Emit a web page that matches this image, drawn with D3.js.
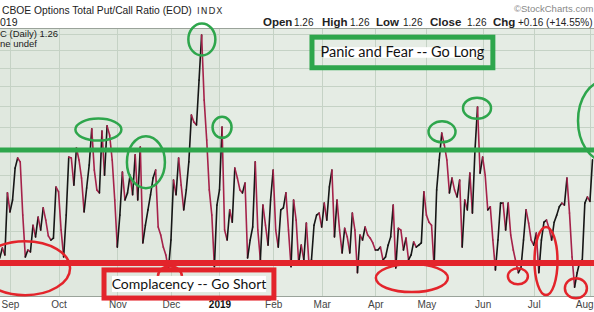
<!DOCTYPE html>
<html>
<head>
<meta charset="utf-8">
<script src="https://cdn.jsdelivr.net/npm/d3@7"></script>
<style>
  body { margin: 0; background: #fff; }
  svg { display: block; font-family: "Liberation Sans", Arial, sans-serif; }
</style>
</head>
<body>
<svg id="chart" width="594" height="312"></svg>
<script>
// $CPC daily closes, late Aug 2018 .. 2 Aug 2019 (one value per trading day)
const cpcValues = [
  0.915, 0.945, 0.924, 1.131, 1.063, 1.105, 1.226, 1.267, 1.251, 1.052,
  0.918, 0.939, 0.933, 1.018, 0.980, 1.045, 1.002, 1.077, 1.035, 0.983,
  0.970, 0.976, 1.153, 1.135, 1.002, 0.918, 1.052, 1.271, 1.267, 1.160,
  1.309, 1.259, 1.187, 1.063, 1.149, 1.238, 1.393, 1.218, 1.142, 1.131,
  1.383, 1.198, 1.407, 1.365, 1.259, 1.105, 0.948, 1.052, 1.210, 1.105,
  1.131, 1.198, 1.124, 1.280, 1.105, 1.313, 0.961, 1.018, 1.070, 1.124,
  1.187, 1.218, 1.012, 0.986, 0.948, 0.924, 0.880, 0.970, 1.179, 1.124,
  1.267, 1.160, 1.070, 1.142, 1.251, 1.457, 1.424, 1.411, 1.633, 1.891,
  1.530, 1.343, 1.142, 1.052, 0.889, 1.087, 1.142, 1.402, 1.002, 0.970,
  1.070, 1.028, 1.226, 1.187, 1.142, 1.131, 1.168, 0.915, 0.970, 1.012,
  1.251, 1.002, 0.909, 1.087, 1.018, 0.954, 1.105, 1.218, 1.002, 0.948,
  1.070, 1.077, 1.131, 1.002, 0.889, 1.105, 1.035, 0.900, 0.954, 0.909,
  1.025, 0.900, 0.909, 1.018, 1.052, 1.059, 1.012, 1.094, 1.035, 1.153,
  1.218, 0.980, 1.105, 1.002, 0.930, 1.008, 0.980, 0.930, 1.059, 1.002,
  0.872, 0.986, 0.970, 1.012, 0.986, 0.976, 0.961, 0.939, 0.939, 0.948,
  0.909, 0.918, 0.954, 0.980, 1.087, 0.886, 1.008, 1.002, 0.939, 0.976,
  0.909, 0.924, 0.964, 0.948, 0.954, 0.961, 1.135, 1.052, 1.028, 1.018,
  0.889, 1.142, 1.259, 1.374, 1.322, 1.259, 1.131, 1.187, 1.142, 1.116,
  1.179, 0.948, 1.105, 1.070, 1.206, 1.059, 1.300, 1.496, 1.206, 1.271,
  1.198, 1.070, 1.081, 0.970, 0.880, 0.970, 1.094, 1.094, 1.002, 1.094,
  0.986, 0.939, 0.903, 0.872, 0.886, 0.970, 1.070, 1.025, 0.970, 0.954,
  0.992, 0.872, 0.970, 1.028, 1.035, 1.008, 0.970, 1.028, 1.052, 1.081,
  1.094, 1.087, 1.187, 1.059, 0.918, 0.832, 0.872, 0.903, 0.909, 1.094,
  1.116, 1.10, 1.26
];

// month labels and the index of each month's first trading day
const monthLabels = ["Sep", "Oct", "Nov", "Dec", "2019", "Feb", "Mar", "Apr", "May", "Jun", "Jul", "Aug"];
const monthStarts = [4, 23, 46, 67, 86, 107, 126, 147, 167, 189, 209, 231];

// horizontal grid (log scale)
const gridValues = [0.9, 1.0, 1.1, 1.2, 1.3, 1.4, 1.5, 1.6, 1.7, 1.8, 1.9];

// hand drawn levels
const panicLevel = 1.30;
const complacencyLevel = 0.90;

// hand drawn circles: [trading day index, value]
const greenCircles = [[79.1, 1.864], [38.6, 1.39], [57.2, 1.25], [87, 1.40], [173.1, 1.38], [186.8, 1.49], [236.9, 1.43]];
const redCircles = [[9.9, 0.885], [66.6, 0.862], [161.3, 0.857], [202.8, 0.862], [213.8, 0.906], [225.5, 0.829]];

const svg = d3.select("#chart");
const W = 594, H = 312;
const plotTop = 28, plotBottom = 296;

const x = d3.scaleLinear().domain([0, 232]).range([-0.22, 592.5]);
const y = d3.scaleLog().domain([0.8, 1.9]).range([299.2, 33.6]);

// ---- header ----
svg.append("rect").attr("width", W).attr("height", H).attr("fill", "#fff");

svg.append("text").attr("x", 2).attr("y", 14)
  .attr("font-size", 10.3).attr("fill", "#222")
  .text("CBOE Options Total Put/Call Ratio (EOD)");
svg.append("text").attr("x", 197).attr("y", 14)
  .attr("font-family", "DejaVu Sans").attr("font-size", 9).attr("letter-spacing", 1).attr("fill", "#333")
  .text("INDX");
svg.append("text").attr("x", 514).attr("y", 12)
  .attr("font-size", 9.5).attr("fill", "#888")
  .text("©StockCharts.com");
svg.append("text").attr("x", 0).attr("y", 26)
  .attr("font-size", 10.5).attr("fill", "#222").text("019");

const quote = [
  ["Open", 263, true], ["1.26", 294, false],
  ["High", 322, true], ["1.26", 350, false],
  ["Low", 376, true], ["1.26", 403, false],
  ["Close", 430, true], ["1.26", 467, false],
  ["Chg", 493, true], ["+0.16 (+14.55%)", 518, false]
];
svg.append("g").selectAll("text").data(quote).join("text")
  .attr("x", d => d[1]).attr("y", 26)
  .attr("font-size", d => d[2] ? 11.5 : 10)
  .attr("font-weight", d => d[2] ? "bold" : "normal")
  .attr("fill", "#222")
  .text(d => d[0]);

// ---- plot area ----
svg.append("rect").attr("x", 0).attr("y", plotTop).attr("width", W).attr("height", plotBottom - plotTop)
  .attr("fill", "#e5ece4");
svg.append("rect").attr("x", 0).attr("y", plotTop).attr("width", x(monthStarts[4])).attr("height", plotBottom - plotTop)
  .attr("fill", "#e0e8df");

const grid = svg.append("g").attr("stroke", "#c5d2c5").attr("stroke-width", 1);
grid.selectAll(".h").data(gridValues).join("line").attr("class", "h")
  .attr("x1", 0).attr("x2", W)
  .attr("y1", d => Math.round(y(d)) + 0.5).attr("y2", d => Math.round(y(d)) + 0.5);
grid.selectAll(".v").data(monthStarts).join("line").attr("class", "v")
  .attr("x1", d => Math.round(x(d)) + 0.5).attr("x2", d => Math.round(x(d)) + 0.5)
  .attr("y1", plotTop).attr("y2", plotBottom);

svg.append("line").attr("x1", 0).attr("x2", W).attr("y1", plotTop + 0.5).attr("y2", plotTop + 0.5)
  .attr("stroke", "#9aa39a");
svg.append("line").attr("x1", 0).attr("x2", W).attr("y1", plotBottom + 0.5).attr("y2", plotBottom + 0.5)
  .attr("stroke", "#9aa39a");

// legend (cut off at left edge in the original)
svg.append("text").attr("x", 0).attr("y", 37).attr("font-size", 9.5).attr("fill", "#222").text("C (Daily) 1.26");
svg.append("text").attr("x", 0).attr("y", 47).attr("font-size", 9.5).attr("fill", "#222").text("ne undef");

// x axis
const xAxis = d3.axisBottom(x).tickValues(monthStarts).tickSize(0).tickPadding(4)
  .tickFormat((d, i) => monthLabels[i]);
const ax = svg.append("g").attr("transform", `translate(0,${plotBottom + 1})`).call(xAxis);
ax.select(".domain").remove();
ax.selectAll("text").attr("font-family", "Liberation Sans, Arial, sans-serif").attr("font-size", 10)
  .attr("fill", (d, i) => monthLabels[i] === "2019" ? "#111" : "#444")
  .attr("font-weight", (d, i) => monthLabels[i] === "2019" ? "bold" : "normal");
// last label sits at the right edge: keep it inside the picture
ax.selectAll("text").filter((d, i) => i === monthLabels.length - 1).attr("text-anchor", "end").attr("dx", W - 1 - x(monthStarts[monthStarts.length - 1]));

// ---- price line: black on up days, red on down days ----
const segs = d3.range(1, cpcValues.length).map(i => ({ i, up: cpcValues[i] >= cpcValues[i - 1] }));
svg.append("g").attr("stroke-width", 1.6).attr("stroke-linecap", "round")
  .selectAll("line").data(segs).join("line")
  .attr("x1", d => x(d.i - 1)).attr("y1", d => y(cpcValues[d.i - 1]))
  .attr("x2", d => x(d.i)).attr("y2", d => y(cpcValues[d.i]))
  .attr("stroke", d => d.up ? "#161616" : "#a5224a");

// ---- annotations ----
const green = "#2ea64c", red = "#e3242b";

svg.append("line").attr("x1", 0).attr("x2", W).attr("y1", y(panicLevel)).attr("y2", y(panicLevel))
  .attr("stroke", green).attr("stroke-width", 5);
svg.append("line").attr("x1", 0).attr("x2", W).attr("y1", y(complacencyLevel)).attr("y2", y(complacencyLevel))
  .attr("stroke", red).attr("stroke-width", 6);

svg.append("g").selectAll("ellipse").data(greenCircles).join("ellipse")
  .attr("cx", d => x(d[0])).attr("cy", d => y(d[1]))
  .attr("rx", (d, i) => [13.5, 23, 19, 9.5, 13.5, 14, 27][i])
  .attr("ry", (d, i) => [16, 11, 26, 10.5, 10.5, 10.5, 40][i])
  .attr("fill", "none").attr("stroke", green).attr("stroke-width", 2.5);

svg.append("g").selectAll("ellipse").data(redCircles).join("ellipse")
  .attr("cx", d => x(d[0])).attr("cy", d => y(d[1]))
  .attr("rx", (d, i) => [45, 12, 36, 10, 11.5, 11][i])
  .attr("ry", (d, i) => [27, 10, 14, 8, 34, 10][i])
  .attr("fill", "none").attr("stroke", red).attr("stroke-width", 2.5);

// label boxes
function labelBox(i0, i1, vTop, vBot, color, label, pad, fs) {
  const x0 = x(i0), x1 = x(i1), y0 = y(vTop), y1 = y(vBot);
  const g = svg.append("g");
  g.append("rect").attr("x", x0 + pad).attr("y", y0 + pad - 2).attr("width", x1 - x0 - 2 * pad).attr("height", y1 - y0 - 2 * pad + 4)
    .attr("fill", "#fff");
  g.append("rect").attr("x", x0).attr("y", y0).attr("width", x1 - x0).attr("height", y1 - y0)
    .attr("fill", "none").attr("stroke", color).attr("stroke-width", 5);
  g.append("text").attr("x", (x0 + x1) / 2).attr("y", (y0 + y1) / 2 + 5)
    .attr("text-anchor", "middle").attr("font-family", "Lato, 'Open Sans', sans-serif").attr("font-size", fs)
    .attr("fill", "#111").text(label);
}
labelBox(122.2, 193.0, 1.878, 1.70, green, "Panic and Fear -- Go Long", 12, 14.5);
labelBox(40.8, 107.3, 0.880, 0.803, red, "Complacency -- Go Short", 8, 14);
</script>
</body>
</html>
